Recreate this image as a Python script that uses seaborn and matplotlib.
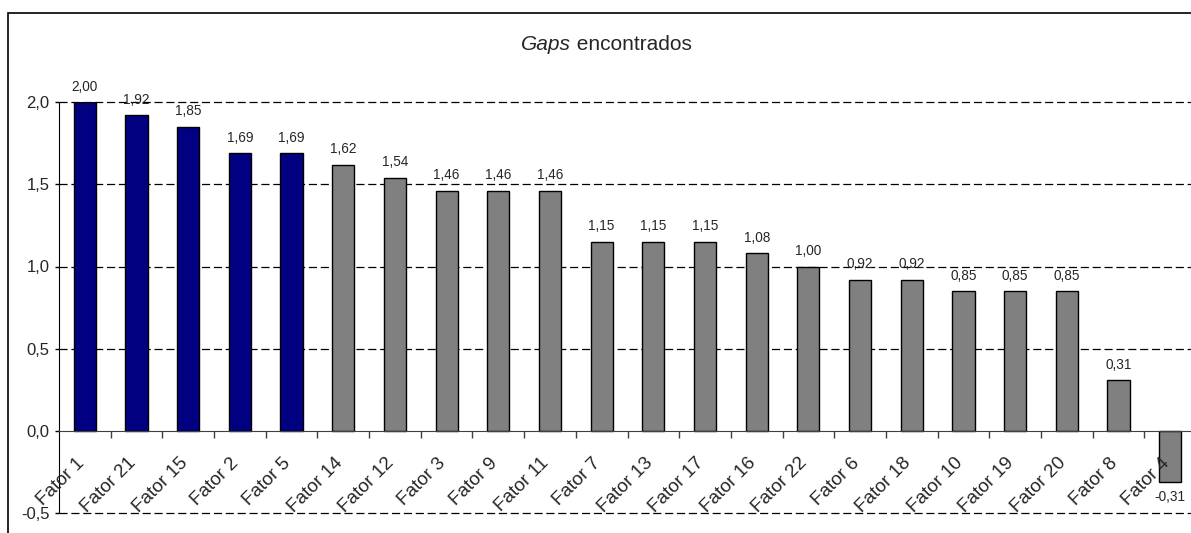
import numpy as np
import pandas as pd
import matplotlib
matplotlib.use('Agg')
import matplotlib.pyplot as plt
from matplotlib.patches import Rectangle
import seaborn as sns

# dados do gráfico
fatores = ['Fator 1', 'Fator 21', 'Fator 15', 'Fator 2', 'Fator 5', 'Fator 14',
           'Fator 12', 'Fator 3', 'Fator 9', 'Fator 11', 'Fator 7', 'Fator 13',
           'Fator 17', 'Fator 16', 'Fator 22', 'Fator 6', 'Fator 18', 'Fator 10',
           'Fator 19', 'Fator 20', 'Fator 8', 'Fator 4']
gaps = [2.00, 1.92, 1.85, 1.69, 1.69, 1.62, 1.54, 1.46, 1.46, 1.46, 1.15, 1.15,
        1.15, 1.08, 1.00, 0.92, 0.92, 0.85, 0.85, 0.85, 0.31, -0.31]
grupo = ['destaque'] * 5 + ['outros'] * 17
y_ticks = [-0.5, 0.0, 0.5, 1.0, 1.5, 2.0]

df = pd.DataFrame({'fator': fatores, 'gap': gaps, 'grupo': grupo})

sns.set_style('white')
plt.rcParams['font.family'] = ['Liberation Sans', 'DejaVu Sans']

W, H = 1191, 533
fig = plt.figure(figsize=(W / 100, H / 100), dpi=100)
ax = fig.add_axes([59 / W, (H - 513.25) / H, (1196 - 59) / W, (513.25 - 102) / H])

# linhas de grade tracejadas
for yv in y_ticks:
    if yv != 0:
        ax.axhline(yv, color='black', linestyle=(0, (6.5, 3)), linewidth=0.9,
                   zorder=0.5, clip_on=False)

sns.barplot(data=df, x='fator', y='gap', hue='grupo', dodge=False, width=0.43,
            palette={'destaque': '#000080', 'outros': '#808080'}, saturation=1,
            edgecolor='black', linewidth=1, legend=False, ax=ax)

# rótulos das barras
for cont in ax.containers:
    labs = [f'{v:.2f}'.replace('.', ',') for v in cont.datavalues]
    ax.bar_label(cont, labels=labs, padding=6, fontsize=9.8)

ax.set_xlim(-0.5, len(fatores) - 0.5)
ax.set_ylim(-0.5, 2.0)
ax.set_yticks(y_ticks)
ax.set_yticklabels([f'{t:.1f}'.replace('.', ',') for t in y_ticks], fontsize=12)
ax.tick_params(axis='y', direction='out', length=3, width=1, pad=4, left=True, color='black')

# eixo x em y=0, ticks entre categorias
ax.spines['bottom'].set_position(('data', 0))
ax.spines['bottom'].set_color('#404040')
ax.spines['bottom'].set_zorder(3)
ax.spines['top'].set_visible(False)
ax.spines['right'].set_visible(False)
ax.spines['left'].set_color('black')
ax.set_xticks(np.arange(len(fatores) - 1) + 0.5)
ax.set_xticklabels([])
ax.tick_params(axis='x', which='major', direction='out', length=5, width=1,
               bottom=True, color='#404040')
for i, nome in enumerate(fatores):
    ax.annotate(nome, xy=(i, 0), xytext=(-6.8, -17), textcoords='offset points',
                rotation=45, ha='right', va='top', rotation_mode='anchor',
                fontsize=13.6, zorder=4)

ax.set_xlabel('')
ax.set_ylabel('')
ax.grid(False)

# título
t1 = fig.text(521 / W, 1 - 45 / H, 'Gaps', fontsize=15, style='italic', va='center')
ax.annotate(' encontrados', xy=(1, 0), xycoords=t1, va='bottom', ha='left', fontsize=15)

# moldura da figura
fig.patches.append(Rectangle((8 / W, -0.1), 1.2, 1.1 - 13 / H, transform=fig.transFigure,
                             fill=False, edgecolor='black', linewidth=1.2))

fig.savefig('out.png', dpi=100)
